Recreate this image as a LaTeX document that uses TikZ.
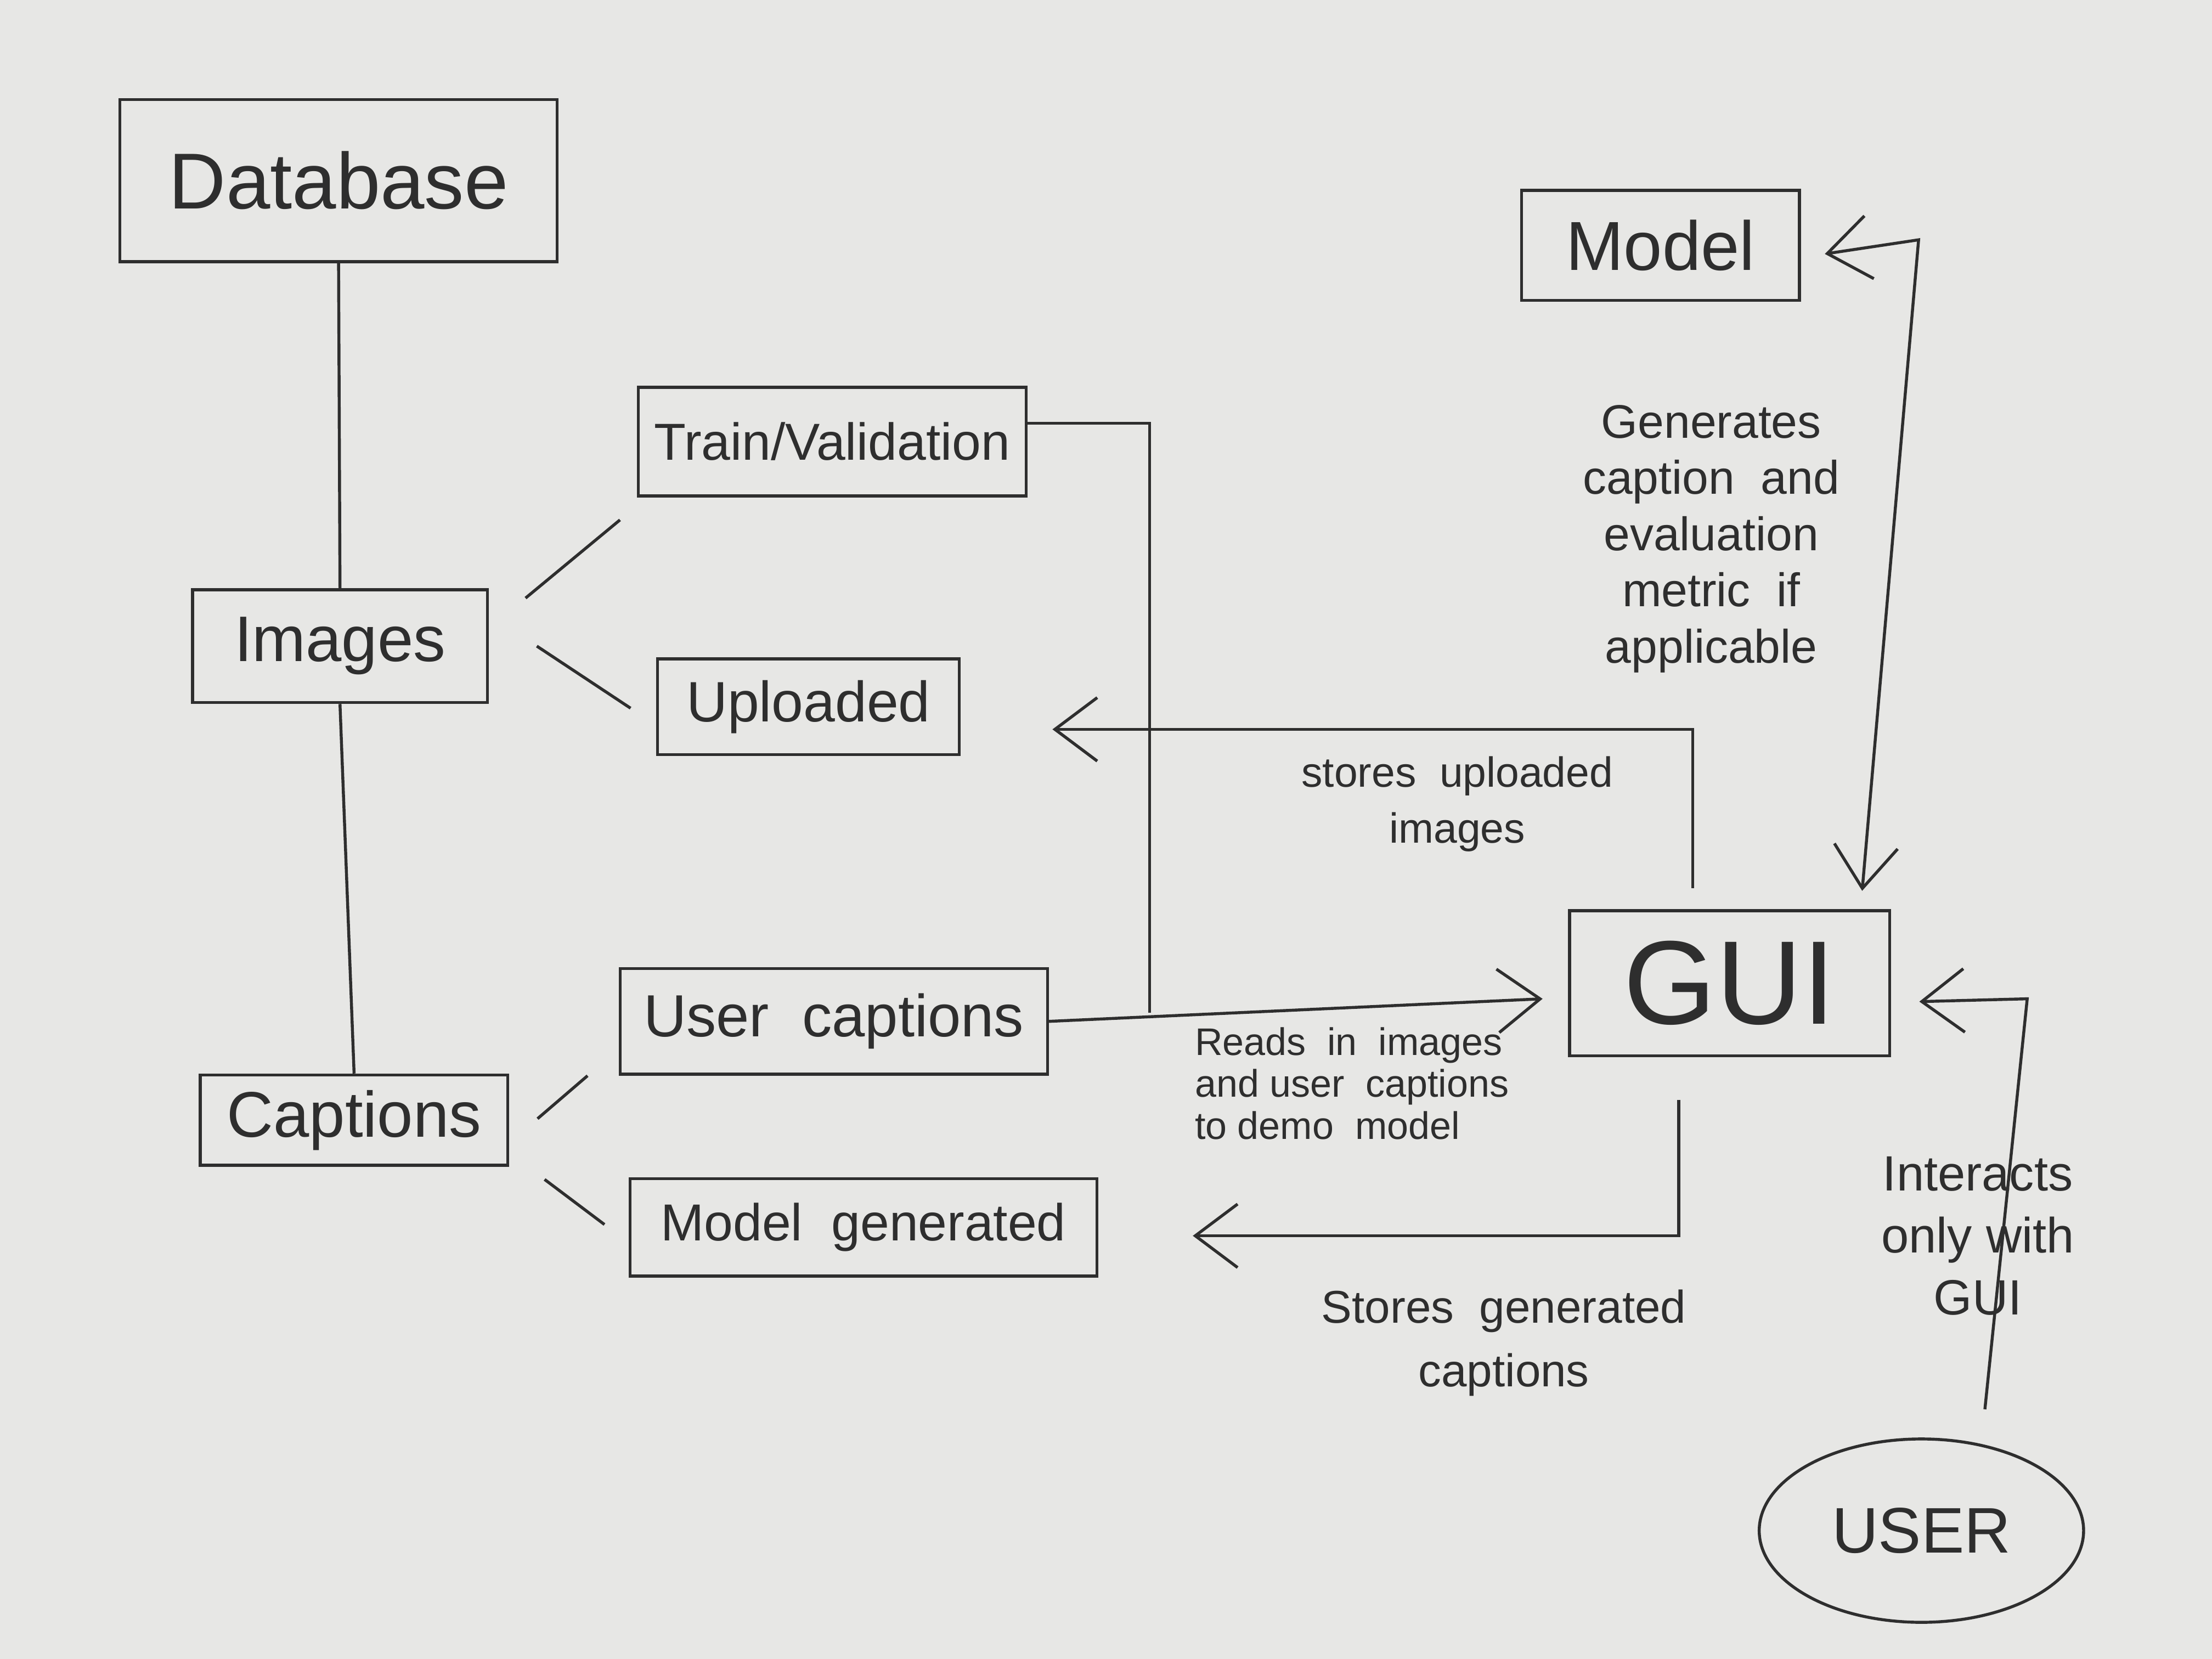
\documentclass[tikz,border=0pt]{standalone}
\usepackage{fontspec}
\setmainfont{Liberation Sans}
\usetikzlibrary{arrows.meta,shapes.geometric}
\definecolor{paper}{HTML}{E7E7E5}
\definecolor{ink}{HTML}{2E2E2E}
\begin{document}
\begin{tikzpicture}[x=0.02cm,y=-0.02cm,
  line width=1.2pt, draw=ink,
  box/.style={draw=ink, line width=1.2pt, inner sep=0pt, text=ink, rectangle},
  lbl/.style={text=ink, inner sep=0pt},
  arr/.style={-{Straight Barb[length=0.6cm,width=0.9cm,line width=1.2pt]}},
  arrboth/.style={{Straight Barb[length=0.6cm,width=0.9cm,line width=1.2pt]}-{Straight Barb[length=0.6cm,width=0.9cm,line width=1.2pt]}},
  fs/.style={font=\fontsize{#1}{#1}\selectfont}
]
\fill[paper] (0,0) rectangle (1568,1176);
\useasboundingbox (0,0) rectangle (1568,1176);

% boxes
\node[box, minimum width=6.2cm, minimum height=2.3cm, fs=32] (db) at (240,128) {Database};
\node[box, minimum width=3.94cm, minimum height=1.56cm, fs=28] (model) at (1177,174) {Model};
\node[box, minimum width=5.5cm, minimum height=1.54cm, fs=21] (tv) at (590,313) {Train/Validation};
\node[box, minimum width=4.18cm, minimum height=1.6cm, fs=26] (img) at (241,458) {Images};
\node[box, minimum width=4.28cm, minimum height=1.36cm, fs=23] (up) at (573,501) {Uploaded};
\node[box, minimum width=6.06cm, minimum height=1.5cm, fs=24] (uc) at (591,724) {User\ \ captions};
\node[box, minimum width=4.36cm, minimum height=1.28cm, fs=26] (cap) at (251,794) {Captions};
\node[box, minimum width=6.62cm, minimum height=1.38cm, fs=21] (mg) at (612,870) {Model\ \ generated};
\node[box, minimum width=4.54cm, minimum height=2.06cm, fs=48] (gui) at (1226,697) {GUI};
\node[draw=ink, line width=1.2pt, ellipse, minimum width=4.6cm, minimum height=2.6cm, inner sep=0pt, text=ink, fs=26] (user) at (1362,1085) {USER};

% free corner points
\coordinate (j) at (815,718);
\coordinate (mc) at (1360,170);
\coordinate (uc2) at (1437,708);

% tree lines
\draw (db.south) -- (img.north);
\draw (img.south) -- (cap.north);
\draw ([shift={(26,7)}]img.north east) -- ([shift={(-12,16)}]tv.south west);
\draw ([shift={(34,0)}]img.east) -- ([shift={(-18,1)}]up.west);
\draw ([shift={(20,-1)}]cap.east) -- ([shift={(-22,0)}]uc.south west);
\draw ([shift={(25,9)}]cap.south east) -- ([shift={(-17,-2)}]mg.west);

% data flow
\draw ([shift={(0,-13)}]tv.east) -| (j);
\draw[arr] (uc.east) -- ([shift={(-18,11)}]gui.west);
\draw[arr] ([shift={(-26,-15)}]gui.north) |- ([shift={(65,16)}]up.east);
\draw[arr] ([shift={(-36,30)}]gui.south) |- ([shift={(67,6)}]mg.east);
\draw[arrboth] ([shift={(17,6)}]model.east) -- (mc) -- ([shift={(94,-13)}]gui.north);
\draw[arr] ([shift={(45,-20)}]user.north) -- (uc2) -- ([shift={(20,13)}]gui.east);

% labels
\node[lbl, align=center, font=\fontsize{19}{22.7}\selectfont] (lgen) at (1213,382) {Generates\\caption\ \ and\\evaluation\\metric\ \ if\\applicable};
\node[lbl, align=center, font=\fontsize{17}{22.7}\selectfont] (lup) at (1033,570) {stores\ \ uploaded\\images};
\node[lbl, align=left, anchor=west, font=\fontsize{15.5}{17}\selectfont] (lread) at (846,768) {Reads\ \ in\ \ images\\and\ user\ \ captions\\to\ demo\ \ model};
\node[lbl, align=center, font=\fontsize{18.5}{25.6}\selectfont] (lgen2) at (1066,952) {Stores\ \ generated\\captions};
\node[lbl, align=center, font=\fontsize{20}{25}\selectfont] (lint) at (1402,876) {Interacts\\only with\\GUI};
\end{tikzpicture}
\end{document}
